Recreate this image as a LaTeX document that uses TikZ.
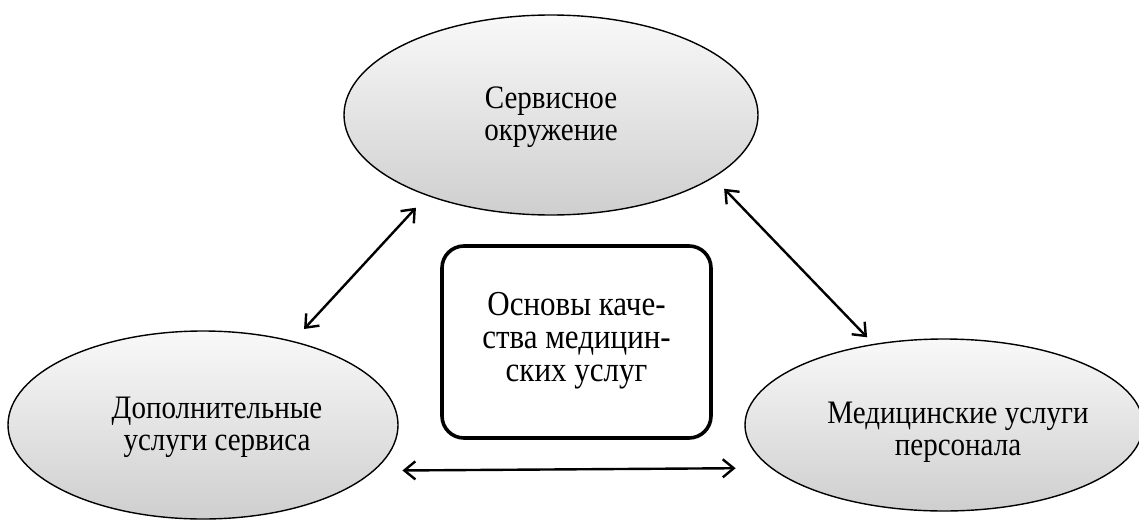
\documentclass[tikz,border=0pt]{standalone}
\usepackage{fontspec}
\usepackage{graphicx}
\setmainfont{Liberation Serif}
\usetikzlibrary{shapes.geometric,arrows.meta}
\newcommand\tall[1]{\scalebox{1}[1.13]{\begin{tabular}{@{}c@{}}#1\end{tabular}}}

\begin{document}
\begin{tikzpicture}[x=1pt,y=-1pt,
  oval/.style={ellipse,draw,line width=1.4pt,inner sep=0pt,outer sep=0pt,top color=gray!5,bottom color=gray!38},
  word/.style={inner sep=0pt,font=\fontsize{29}{29}\selectfont},
  link/.style={line width=2.4pt,{Straight Barb[length=11pt,width=18pt]}-{Straight Barb[length=11pt,width=18pt]}}]
\useasboundingbox (0,0) rectangle (1139,519);

\node[oval,minimum width=414pt,minimum height=200pt] (serv) at (551,115) {};
\node[oval,minimum width=390pt,minimum height=188pt] (dop) at (203,425) {};
\node[oval,minimum width=398pt,minimum height=172pt] (med) at (944,425) {};
\node[draw,line width=3.6pt,rounded corners=22pt,minimum width=269pt,minimum height=192pt,font=\fontsize{31}{29}\selectfont] (osn) at (576.5,342) {\tall{Основы каче-\\ства медицин-\\ских услуг}};

\node[word] (servtext) at (551,118) {\tall{Сервисное\\окружение}};
\node[word] (doptext) at (217,428) {\tall{Дополнительные\\услуги сервиса}};
\node[word] (medtext) at (958,433) {\tall{Медицинские услуги\\персонала}};

\draw[link,shorten <=17pt,shorten >=17pt] (dop.43) -- (serv.213.1);
\draw[link,shorten <=16pt,shorten >=10pt] (serv.339) -- (med.131.2);
\draw[link,shorten <=29pt,shorten >=36pt] (dop.345.7) -- (med.194.4);
\end{tikzpicture}
\end{document}
